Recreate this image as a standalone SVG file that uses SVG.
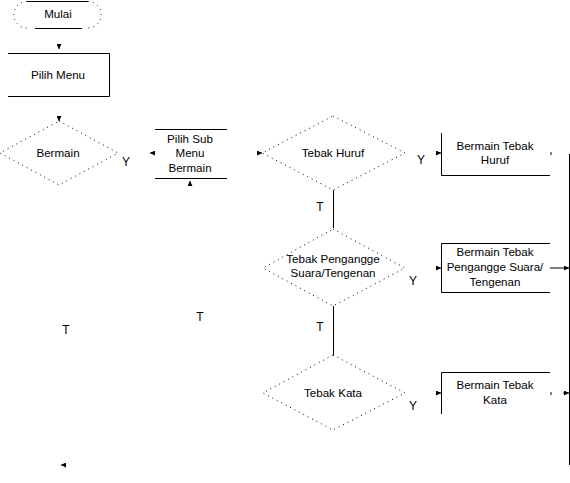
<svg xmlns="http://www.w3.org/2000/svg" width="570" height="483" viewBox="0 0 570 483">
<style>
.s{fill:none;stroke:#000;stroke-width:1}
.d{fill:none;stroke:#000;stroke-width:1;stroke-dasharray:1 4}
text{font-family:"Liberation Sans",Arial,sans-serif;font-size:11.6px;fill:#000;text-anchor:middle}
.l{font-size:12px}
</style>
<defs>
<marker id="a" viewBox="0 0 6 6" refX="6" refY="3" markerWidth="5" markerHeight="5" orient="auto"><path d="M0,0L6,3L0,6z" fill="#000"/></marker>
</defs>
<rect width="570" height="483" fill="#fff"/>
<g id="mulai">
<path class="s" d="M27,1.5H88"/>
<path class="d" d="M27,1.5A13,13 0 0 0 27,28M88,1.5A13,13 0 0 1 88,28"/>
<path class="s" d="M35,28.5H82"/>
<text x="58" y="18">Mulai</text>
</g>
<g id="pilih-menu">
<path class="s" d="M8,53.5H109.5V96.5H8"/>
<text x="58" y="79">Pilih Menu</text>
</g>
<g id="bermain">
<path class="d" d="M59,121L118,153L59,185L0,153Z"/>
<text x="58" y="157">Bermain</text>
</g>
<g id="pilih-sub">
<path class="s" d="M155,129.5H227M155,178.5H227"/>
<text x="190" y="143">Pilih Sub</text>
<text x="190" y="157">Menu</text>
<text x="190" y="172">Bermain</text>
</g>
<g id="tebak-huruf">
<path class="d" d="M333,116L405,153L333,190L262,153Z"/>
<text x="333" y="157">Tebak Huruf</text>
</g>
<g id="tebak-pengangge">
<path class="d" d="M333,229L405,268L333,306L263,268Z"/>
<text x="333" y="263">Tebak Pengangge</text>
<text x="333" y="277">Suara/Tengenan</text>
</g>
<g id="tebak-kata">
<path class="d" d="M333,355L405,393L333,430L263,393Z"/>
<text x="333" y="397">Tebak Kata</text>
</g>
<g id="bermain-huruf">
<path class="s" d="M441.5,133V175.5H550"/>
<text x="495" y="150">Bermain Tebak</text>
<text x="495" y="164">Huruf</text>
</g>
<g id="bermain-pengangge">
<path class="s" d="M550,243.5H441.5V292.5H550"/>
<text x="495" y="256">Bermain Tebak</text>
<text x="495" y="271">Pengangge Suara/</text>
<text x="495" y="286">Tengenan</text>
</g>
<g id="bermain-kata">
<path class="s" d="M550,372.5H441.5V414"/>
<text x="495" y="389">Bermain Tebak</text>
<text x="495" y="404">Kata</text>
</g>
<g id="connectors">
<path class="s" d="M59,45V49" marker-end="url(#a)"/>
<path class="s" d="M59,117V121" marker-end="url(#a)"/>
<path class="s" d="M154,153H150" marker-end="url(#a)"/>
<path class="s" d="M190,186V181" marker-end="url(#a)"/>
<path class="s" d="M257,153H262" marker-end="url(#a)"/>
<path class="s" d="M436,153H441" marker-end="url(#a)"/>
<path class="s" d="M436,268H441" marker-end="url(#a)"/>
<path class="s" d="M436,393H441" marker-end="url(#a)"/>
<path class="s" d="M550,268H569" marker-end="url(#a)"/>
<path class="s" d="M563,393H569" marker-end="url(#a)"/>
<path class="s" d="M66,465H61" marker-end="url(#a)"/>
<path class="s" d="M333.5,190V228M333.5,306V355"/>
<path class="s" d="M569.5,154V465"/>
<path class="s" d="M551,152V155M551,392V395"/>
<text class="l" x="126" y="166">Y</text>
<text class="l" x="320" y="211">T</text>
<text class="l" x="421" y="164">Y</text>
<text class="l" x="320" y="331">T</text>
<text class="l" x="413" y="285">Y</text>
<text class="l" x="413" y="410">Y</text>
<text class="l" x="66" y="334">T</text>
<text class="l" x="200" y="321">T</text>
</g>
</svg>
